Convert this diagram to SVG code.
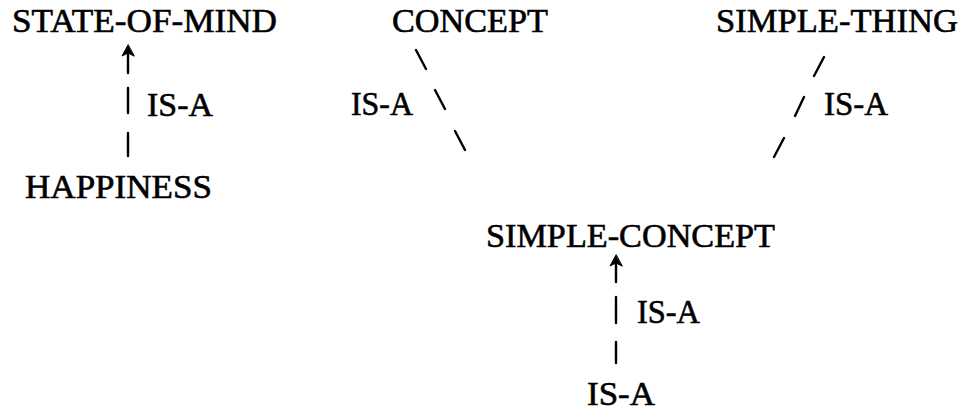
<svg xmlns="http://www.w3.org/2000/svg" width="964" height="412" viewBox="0 0 964 412">
<style>
text{font-family:"Liberation Serif","Times New Roman",serif;font-size:34px;fill:#000;stroke:#000;stroke-width:0.6}
.c line,.c path{stroke:#000;stroke-width:2.4;fill:none;stroke-linecap:round;stroke-linejoin:miter}
.c path.h{fill:#000;stroke-width:1}
</style>
<rect width="964" height="412" fill="#fff"/>
<g id="state-of-mind"><text x="12" y="32" textLength="265" lengthAdjust="spacingAndGlyphs">STATE-OF-MIND</text></g>
<g id="happiness"><text x="25" y="198" textLength="187" lengthAdjust="spacingAndGlyphs">HAPPINESS</text></g>
<g id="concept"><text x="392" y="32" textLength="156" lengthAdjust="spacingAndGlyphs">CONCEPT</text></g>
<g id="simple-thing"><text x="716" y="32" textLength="242" lengthAdjust="spacingAndGlyphs">SIMPLE-THING</text></g>
<g id="simple-concept"><text x="486" y="247" textLength="289" lengthAdjust="spacingAndGlyphs">SIMPLE-CONCEPT</text></g>
<g id="is-a-node"><text x="587" y="405" textLength="68" lengthAdjust="spacingAndGlyphs">IS-A</text></g>
<g id="connectors" class="c">
  <line x1="128" y1="50" x2="128" y2="73"/>
  <path class="h" d="M128,45 L122,56 L128,53 L134,56 Z"/>
  <line x1="128" y1="88" x2="128" y2="113"/>
  <line x1="128" y1="133" x2="128" y2="156"/>
  <text x="147" y="116" textLength="66" lengthAdjust="spacingAndGlyphs">IS-A</text>

  <line x1="416" y1="50" x2="426" y2="69"/>
  <line x1="435" y1="90" x2="445" y2="109"/>
  <line x1="455" y1="131" x2="465" y2="150"/>
  <text x="351" y="115" textLength="62" lengthAdjust="spacingAndGlyphs">IS-A</text>

  <line x1="824" y1="57" x2="814" y2="76"/>
  <line x1="804" y1="97" x2="795" y2="116"/>
  <line x1="784" y1="138" x2="774" y2="157"/>
  <text x="824" y="115" textLength="64" lengthAdjust="spacingAndGlyphs">IS-A</text>

  <line x1="616" y1="260" x2="616" y2="282"/>
  <path class="h" d="M616,255 L610,266 L616,263 L622,266 Z"/>
  <line x1="616" y1="297" x2="616" y2="323"/>
  <line x1="616" y1="342" x2="616" y2="363"/>
  <text x="637" y="323" textLength="63" lengthAdjust="spacingAndGlyphs">IS-A</text>
</g>
</svg>
